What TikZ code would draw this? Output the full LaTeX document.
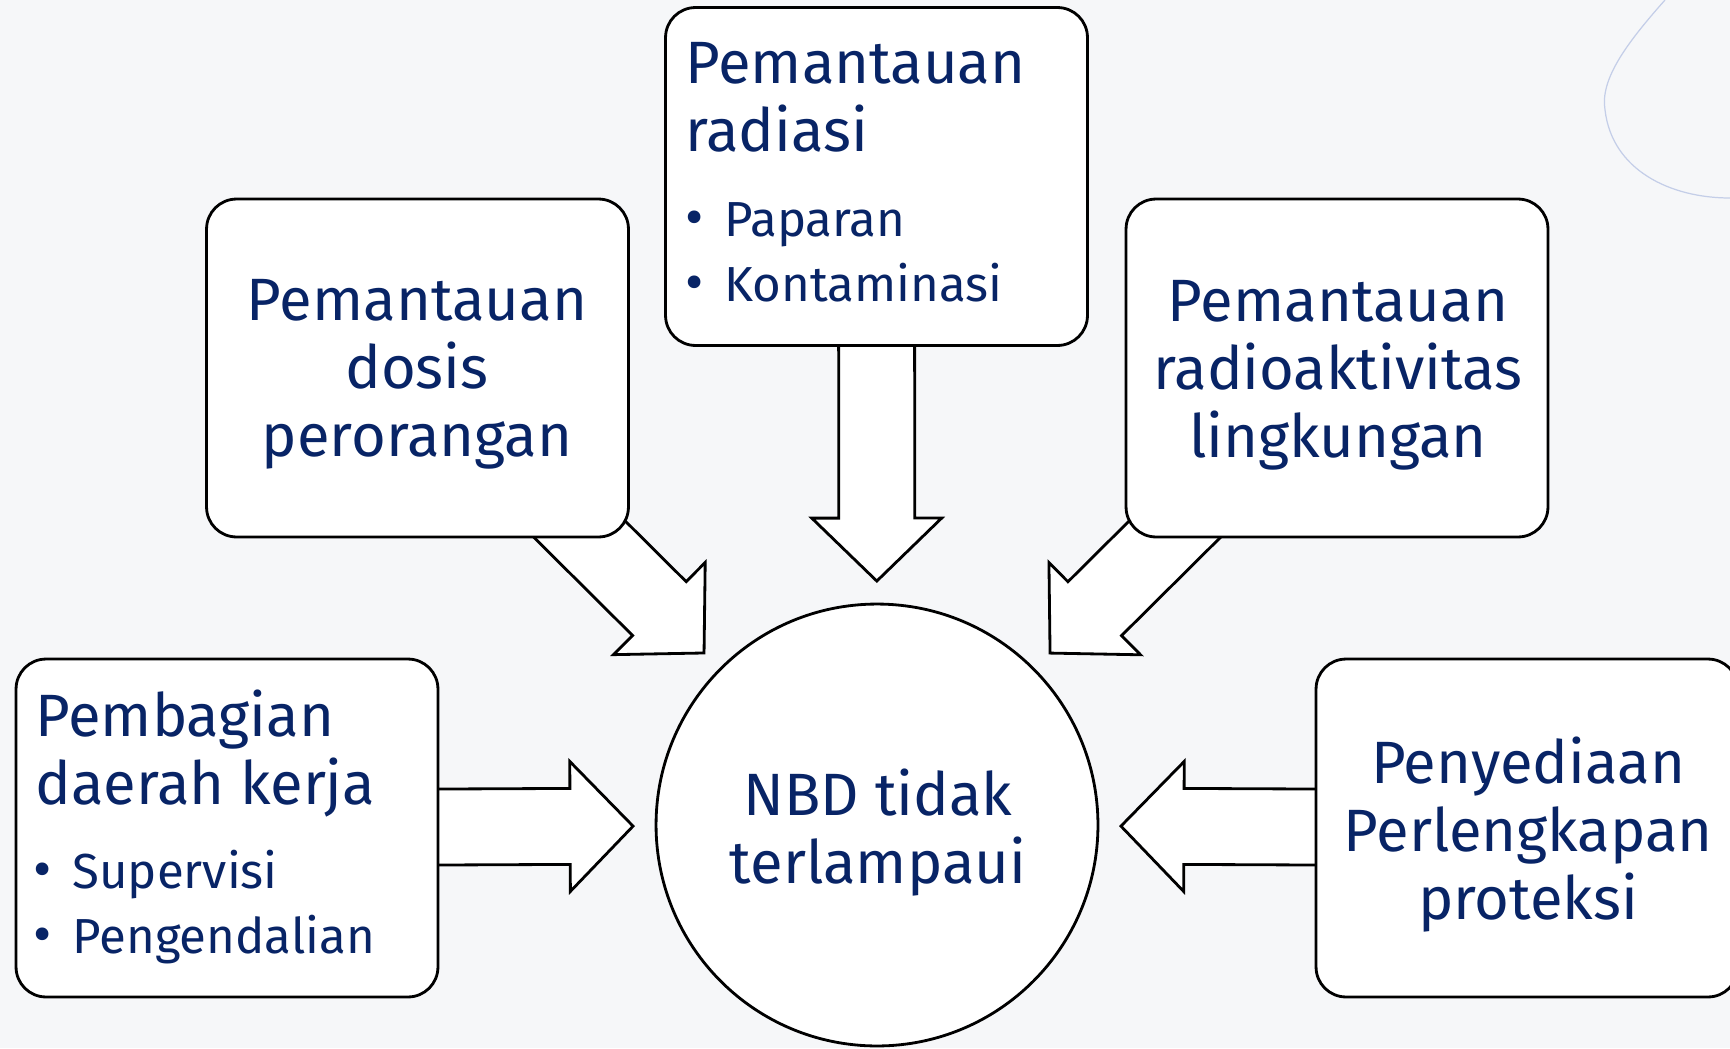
\documentclass[tikz,border=0pt]{standalone}
\usepackage{fontspec}
\setmainfont{Fira Sans}
\usetikzlibrary{calc}

\definecolor{navy}{RGB}{8,36,102}
\definecolor{paper}{RGB}{246,247,249}
\definecolor{swirl}{RGB}{196,206,232}

\pgfdeclarelayer{bg}
\pgfdeclarelayer{arrows}
\pgfsetlayers{bg,arrows,main}

\tikzset{
  panel/.style={draw, fill=white, rounded corners=0.6cm, line width=1.6pt, minimum width=8.44cm, minimum height=6.76cm},
  headtext/.style={text=navy, inner sep=0pt, font=\fontsize{34}{38.7}\selectfont},
  itemtext/.style={text=navy, inner sep=0pt, align=left, font=\fontsize{28}{37}\selectfont},
  hollow/.style={draw, fill=white, line width=1.6pt, line join=miter},
}

\newcommand{\fatarrow}[2]{%
  \coordinate (tip) at ($(#2.center)!4.88cm!(#1.center)$);
  \coordinate (neck) at ($(tip)!1.26cm!(#1.center)$);
  \draw[hollow] ($(#1.center)!0.76cm!90:(tip)$) -- ($(neck)!0.76cm!90:(tip)$) -- ($(neck)!1.3cm!90:(tip)$) -- (tip)
    -- ($(neck)!1.3cm!-90:(tip)$) -- ($(neck)!0.76cm!-90:(tip)$) -- ($(#1.center)!0.76cm!-90:(tip)$) -- cycle;}
\newcommand{\dotitem}{\makebox[0.78cm][l]{\fontsize{32}{32}\selectfont •}}

\begin{document}
\begin{tikzpicture}[x=0.02cm, y=-0.02cm]
	\useasboundingbox (0,0) rectangle (1730,1048);
	\begin{pgfonlayer}{bg}
		\fill[paper] (0,0) rectangle (1730,1048);
		\draw[swirl, line width=0.7pt] (1665,0) .. controls (1625,45) and (1600,80) .. (1605,110) .. controls (1612,170) and (1670,198) .. (1730,198);
	\end{pgfonlayer}

	\node[panel] (zona) at (227,828) {};
	\node[panel] (dosis) at (417.5,368) {};
	\node[panel] (radiasi) at (876.5,176.5) {};
	\node[panel] (lingk) at (1337,368) {};
	\node[panel] (apd) at (1527,828) {};
	\node[draw, circle, fill=white, line width=1.6pt, minimum size=8.84cm] (nbd) at (877,825) {};

	\node[headtext, anchor=west, align=left] (zonaT) at (35,753.5) {Pembagian\\daerah kerja};
	\node[itemtext, anchor=west] (zonaL) at (33,907) {\dotitem Supervisi\\\dotitem Pengendalian};
	\node[headtext, align=center] (dosisT) at (417,374.5) {Pemantauan\\dosis\\perorangan};
	\node[headtext, anchor=west, align=left] (radiasiT) at (685,97) {Pemantauan\\radiasi};
	\node[itemtext, anchor=west] (radiasiL) at (685,252.5) {\dotitem Paparan\\\dotitem Kontaminasi};
	\node[headtext, align=center] (lingkT) at (1338,375) {Pemantauan\\radioaktivitas\\lingkungan};
	\node[headtext, align=center] (apdT) at (1528,835) {Penyediaan\\Perlengkapan\\proteksi};
	\node[headtext, align=center] (nbdT) at (878,832.5) {NBD tidak\\terlampaui};

	\begin{pgfonlayer}{arrows}
		\fatarrow{zona}{nbd}
		\fatarrow{dosis}{nbd}
		\fatarrow{radiasi}{nbd}
		\fatarrow{lingk}{nbd}
		\fatarrow{apd}{nbd}
	\end{pgfonlayer}
\end{tikzpicture}
\end{document}
